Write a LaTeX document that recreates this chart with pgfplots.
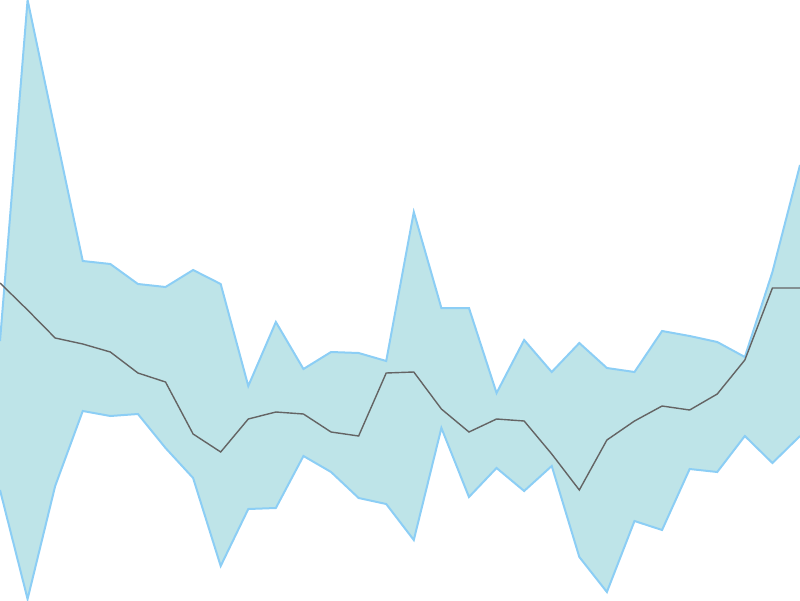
\documentclass[border=0pt]{standalone}
\usepackage{pgfplots}
\pgfplotsset{compat=1.18}
\usepgfplotslibrary{fillbetween}
\definecolor{bandfill}{RGB}{190,228,232}
\definecolor{bandedge}{RGB}{140,206,245}
\definecolor{midline}{RGB}{100,100,100}
\begin{document}
\begin{tikzpicture}
\begin{axis}[
    width=400pt, height=300pt,
    scale only axis,
    hide axis,
    xmin=0, xmax=29,
    ymin=0, ymax=600,
    clip=true,
]
\addplot[draw=none, name path=upper] coordinates {
(0,259)(1,600)(2,469)(3,339)(4,336)(5,316)(6,313)(7,330)(8,316)(9,214)
(10,278)(11,231)(12,248)(13,247)(14,239)(15,388)(16,292)(17,292)(18,207)(19,260)
(20,228)(21,257)(22,232)(23,228)(24,269)(25,264)(26,258)(27,243)(28,328)(29,435)};
\addplot[draw=none, name path=lower] coordinates {
(0,110)(1,1)(2,114)(3,189)(4,184)(5,186)(6,152)(7,122)(8,34)(9,91)
(10,92)(11,144)(12,128)(13,102)(14,96)(15,60)(16,172)(17,103)(18,132)(19,109)
(20,134)(21,43)(22,8)(23,79)(24,70)(25,131)(26,128)(27,164)(28,137)(29,164)};
\addplot[fill=bandfill, draw=none] fill between[of=upper and lower];
\addplot[bandedge, line width=1pt] coordinates {
(0,259)(1,600)(2,469)(3,339)(4,336)(5,316)(6,313)(7,330)(8,316)(9,214)
(10,278)(11,231)(12,248)(13,247)(14,239)(15,388)(16,292)(17,292)(18,207)(19,260)
(20,228)(21,257)(22,232)(23,228)(24,269)(25,264)(26,258)(27,243)(28,328)(29,435)};
\addplot[bandedge, line width=1pt] coordinates {
(0,110)(1,1)(2,114)(3,189)(4,184)(5,186)(6,152)(7,122)(8,34)(9,91)
(10,92)(11,144)(12,128)(13,102)(14,96)(15,60)(16,172)(17,103)(18,132)(19,109)
(20,134)(21,43)(22,8)(23,79)(24,70)(25,131)(26,128)(27,164)(28,137)(29,164)};
\addplot[midline, line width=0.7pt] coordinates {
(0,317)(1,290)(2,262)(3,256)(4,248)(5,227)(6,218)(7,166)(8,148)(9,181)
(10,188)(11,186)(12,168)(13,164)(14,227)(15,228)(16,191)(17,168)(18,181)(19,179)
(20,146)(21,110)(22,160)(23,179)(24,194)(25,190)(26,206)(27,240)(28,312)(29,312)};
\end{axis}
\end{tikzpicture}
\end{document}
